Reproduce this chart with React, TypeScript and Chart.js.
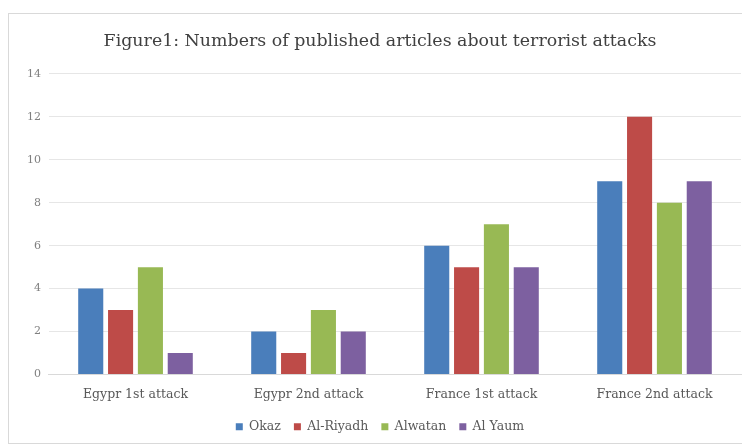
import React, { useEffect, useRef } from "react";
import { Chart, registerables } from "chart.js";

Chart.register(...registerables);

const categories = ["Egypr 1st attack", "Egypr 2nd attack", "France 1st attack", "France 2nd attack"];
const okaz = [4, 2, 6, 9];
const alRiyadh = [3, 1, 5, 12];
const alwatan = [5, 3, 7, 8];
const alYaum = [1, 2, 5, 9];
const seriesNames = ["Okaz", "Al-Riyadh", "Alwatan", "Al Yaum"];
const yTicks = [0, 2, 4, 6, 8, 10, 12, 14];

const colors = ["#4A7EBB", "#BE4B48", "#98B954", "#7D60A0"];
const font = "'DejaVu Serif', 'Liberation Serif', serif";

export default function App() {
  const ref = useRef<HTMLCanvasElement | null>(null);
  useEffect(() => {
    if (!ref.current) return;
    const data = [okaz, alRiyadh, alwatan, alYaum];
    const chart = new Chart(ref.current, {
      type: "bar",
      data: {
        labels: categories,
        datasets: data.map((d, i) => ({
          label: seriesNames[i],
          data: d,
          backgroundColor: colors[i],
          borderWidth: 0,
        })),
      },
      options: {
        animation: false,
        responsive: true,
        maintainAspectRatio: false,
        layout: { padding: { left: 10, right: 8, top: 0, bottom: 0 } },
        datasets: { bar: { categoryPercentage: 0.69, barPercentage: 0.84 } },
        plugins: {
          title: {
            display: true,
            text: "Figure1: Numbers of published articles about terrorist attacks",
            color: "#404040",
            font: { family: font, size: 17.4, weight: "normal" },
            padding: { top: 17, bottom: 22 },
          },
          legend: {
            position: "bottom",
            labels: {
              boxWidth: 7,
              boxHeight: 7,
              color: "#595959",
              font: { family: font, size: 12.5 },
              padding: 13,
            },
          },
          tooltip: { enabled: false },
        },
        scales: {
          x: {
            grid: { display: false },
            border: { color: "#d9d9d9" },
            ticks: { color: "#595959", font: { family: font, size: 12.5 }, padding: 5 },
          },
          y: {
            min: 0,
            max: 14,
            afterBuildTicks: (axis: any) => {
              axis.ticks = yTicks.map((v) => ({ value: v }));
            },
            grid: { color: "#e6e6e6", drawTicks: false },
            border: { display: false },
            ticks: { color: "#7f7f7f", font: { family: font, size: 11 }, padding: 8 },
          },
        },
      },
    });
    return () => chart.destroy();
  }, []);
  return (
    <div style={{ marginTop: 5, width: 742, height: 431, border: "1px solid #d9d9d9", boxSizing: "border-box" }}>
      <canvas ref={ref} />
    </div>
  );
}
